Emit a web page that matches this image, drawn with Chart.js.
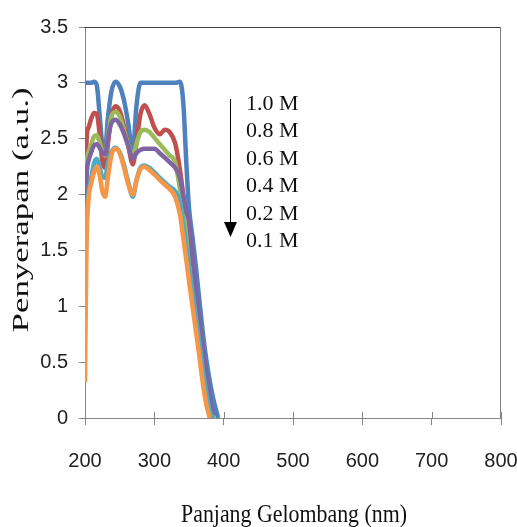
<!DOCTYPE html>
<html>
<head>
<meta charset="utf-8">
<script src="https://cdn.jsdelivr.net/npm/chart.js@4/dist/chart.umd.min.js"></script>
<style>
  html, body { margin: 0; padding: 0; background: #fff; }
  #wrap { width: 517px; height: 527px; }
</style>
</head>
<body>
<div id="wrap"><canvas id="myChart" width="517" height="527"></canvas></div>
<script>
// wavelength grid (nm), shared by all series
const wavelengths = [200, 202, 205, 209, 213, 217, 221, 225, 229, 233, 238, 244, 250, 256, 262, 269, 274, 280, 286, 293, 300, 308, 315, 322, 330, 337, 342, 346, 350, 355, 360, 365, 370, 375, 380, 385, 392]

// absorbance per concentration (null = curve already ended)
const abs10 = [3.0, 3.0, 3.0, 3.0, 3.01, 2.98, 2.72, 2.45, 2.41, 2.68, 2.92, 3.01, 2.97, 2.85, 2.65, 2.38, 2.78, 3.0, 3.0, 3.0, 3.0, 3.0, 3.0, 3.0, 3.0, 3.01, 2.8, 2.3, 1.88, 1.62, 1.35, 1.05, 0.76, 0.52, 0.33, 0.17, 0]
const abs08 = [1.1, 2.45, 2.6, 2.68, 2.73, 2.72, 2.55, 2.3, 2.24, 2.45, 2.7, 2.79, 2.75, 2.62, 2.45, 2.27, 2.45, 2.72, 2.8, 2.72, 2.6, 2.54, 2.58, 2.56, 2.46, 2.22, 1.98, 1.78, 1.5, 1.25, 1.02, 0.78, 0.53, 0.31, 0.12, 0, null]
const abs06 = [1.0, 2.2, 2.38, 2.45, 2.52, 2.53, 2.47, 2.38, 2.35, 2.52, 2.7, 2.74, 2.7, 2.58, 2.45, 2.34, 2.45, 2.56, 2.58, 2.56, 2.51, 2.45, 2.4, 2.35, 2.29, 2.05, 1.88, 1.68, 1.45, 1.2, 0.97, 0.74, 0.5, 0.28, 0.1, 0, null]
const abs04 = [1.0, 2.1, 2.3, 2.38, 2.44, 2.45, 2.42, 2.37, 2.36, 2.5, 2.64, 2.67, 2.63, 2.55, 2.44, 2.32, 2.37, 2.4, 2.41, 2.41, 2.41, 2.37, 2.33, 2.29, 2.24, 2.15, 1.98, 1.85, 1.76, 1.45, 1.14, 0.88, 0.62, 0.38, 0.17, 0.02, null]
const abs02 = [0.9, 1.7, 2.0, 2.15, 2.28, 2.32, 2.25, 2.16, 2.15, 2.28, 2.38, 2.42, 2.38, 2.27, 2.12, 1.98, 2.12, 2.24, 2.26, 2.24, 2.2, 2.15, 2.11, 2.07, 2.03, 1.93, 1.72, 1.54, 1.36, 1.13, 0.9, 0.67, 0.43, 0.22, 0.06, 0, null]
const abs01 = [0.32, 1.5, 1.95, 2.1, 2.2, 2.25, 2.18, 2.03, 1.98, 2.15, 2.35, 2.41, 2.37, 2.25, 2.1, 2.0, 2.12, 2.23, 2.25, 2.22, 2.18, 2.13, 2.09, 2.05, 1.98, 1.82, 1.6, 1.42, 1.23, 1.0, 0.78, 0.55, 0.31, 0.12, 0, null, null]

const seriesLabels = ['1.0 M', '0.8 M', '0.6 M', '0.4 M', '0.2 M', '0.1 M']
const seriesValues = [abs10, abs08, abs06, abs04, abs02, abs01]
const seriesColors = ['#4F81BD', '#C0504D', '#9BBB59', '#8064A2', '#4BACC6', '#F79646']

const xTicks = [200, 300, 400, 500, 600, 700, 800]
const yTicks = [0, 0.5, 1, 1.5, 2, 2.5, 3, 3.5]

const toPoints = (vals) => {
    const pts = []
    for (let i = 0; i < wavelengths.length; i++){
        if (vals[i] !== null) pts.push({x: wavelengths[i], y: vals[i]})
    }
    return pts
}

const fitText = (ctx, text, x, y, width, font, rotate) => {
    ctx.save()
    ctx.font = font
    const w = ctx.measureText(text).width
    ctx.translate(x, y)
    if (rotate) ctx.rotate(-Math.PI / 2)
    ctx.scale(width / w, 1)
    ctx.textAlign = 'center'
    ctx.textBaseline = 'alphabetic'
    ctx.fillText(text, 0, 0)
    ctx.restore()
}

const extras = {
    id: 'extras',
    afterDraw(chart){
        const ctx = chart.ctx
        const a = chart.chartArea
        ctx.save()
        // frame top / right
        ctx.lineWidth = 1
        ctx.strokeStyle = '#404040'
        ctx.beginPath(); ctx.moveTo(a.left, a.top + 0.5); ctx.lineTo(a.right, a.top + 0.5); ctx.stroke()
        ctx.strokeStyle = '#808080'
        ctx.beginPath(); ctx.moveTo(a.right - 0.5, a.top); ctx.lineTo(a.right - 0.5, a.bottom); ctx.stroke()
        // x ticks also cross above the axis
        ctx.strokeStyle = '#868686'
        xTicks.forEach(v => {
            const px = Math.round(chart.scales.x.getPixelForValue(v)) + 0.5
            ctx.beginPath(); ctx.moveTo(px, a.bottom - 6); ctx.lineTo(px, a.bottom); ctx.stroke()
        })
        // axis titles
        ctx.fillStyle = '#111'
        fitText(ctx, 'Panjang Gelombang (nm)', 294, 522, 226, '26px "Liberation Serif"', false)
        fitText(ctx, 'Penyerapan (a.u.)', 28, 210, 245, '24px "Liberation Serif"', true)
        // concentration list with arrow
        ctx.font = '22px "Liberation Serif"'
        ctx.textAlign = 'left'
        ctx.textBaseline = 'alphabetic'
        seriesLabels.forEach((t, i) => {
            ctx.fillText(t, 246, 102 + 27.5 * i + 7.5)
        })
        ctx.strokeStyle = '#000'
        ctx.beginPath(); ctx.moveTo(230.5, 99); ctx.lineTo(230.5, 224); ctx.stroke()
        ctx.fillStyle = '#000'
        ctx.beginPath(); ctx.moveTo(224, 222); ctx.lineTo(237, 222); ctx.lineTo(230.5, 237); ctx.closePath(); ctx.fill()
        ctx.restore()
    }
}

const tickFont = { family: "'Liberation Sans', Arial, sans-serif", size: 20 }

const ctx = document.getElementById('myChart')

new Chart(ctx, {
    type: 'line',
    data: {
        datasets: seriesValues.map((vals, i) => ({
            label: seriesLabels[i],
            data: toPoints(vals),
            borderColor: seriesColors[i],
            backgroundColor: seriesColors[i],
            borderWidth: 4.5,
            pointRadius: 0,
            cubicInterpolationMode: 'monotone',
            fill: false,
            order: 5 - i
        }))
    },
    options: {
        responsive: false,
        animation: false,
        layout: { padding: { left: 0, top: 27, right: 16, bottom: 0 } },
        plugins: { legend: { display: false }, tooltip: { enabled: false } },
        scales: {
            x: {
                type: 'linear',
                min: 200,
                max: 800,
                afterBuildTicks: (s) => { s.ticks = xTicks.map(v => ({value: v})) },
                afterFit: (s) => { s.height = 109; s.paddingLeft = 0; s.paddingRight = 0 },
                border: { color: '#868686', width: 1 },
                grid: { drawOnChartArea: false, color: '#868686', tickLength: 7 },
                ticks: {
                    color: '#222',
                    padding: 24,
                    maxRotation: 0,
                    font: tickFont
                }
            },
            y: {
                min: 0,
                max: 3.5,
                afterBuildTicks: (s) => { s.ticks = yTicks.map(v => ({value: v})) },
                afterFit: (s) => { s.width = 85; s.paddingTop = 0; s.paddingBottom = 0 },
                border: { color: '#868686', width: 1 },
                grid: { drawOnChartArea: false, color: '#868686', tickLength: 6 },
                ticks: {
                    color: '#222',
                    padding: 11,
                    font: tickFont,
                    callback: (v) => String(v)
                }
            }
        }
    },
    plugins: [extras]
})
</script>
</body>
</html>
